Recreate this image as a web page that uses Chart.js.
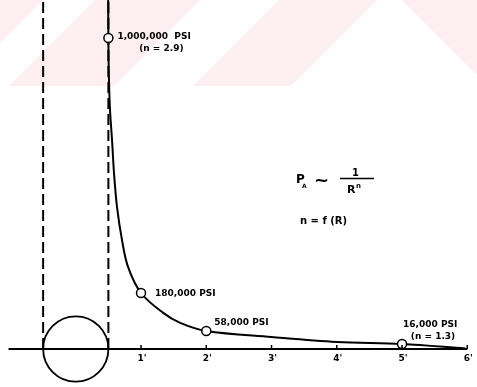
<!DOCTYPE html>
<html>
<head>
<meta charset="utf-8">
<script src="https://cdn.jsdelivr.net/npm/chart.js@4.4.0/dist/chart.umd.min.js"></script>
<style>
  html, body { margin: 0; padding: 0; background: #fff; }
  #wrap { width: 477px; height: 387px; }
</style>
</head>
<body>
<div id="wrap"><canvas id="stressChart" width="477" height="387"></canvas></div>
<script>
// distance from centre of the hole (ft) and stress (psi)
const curveR = [0.497, 0.5, 0.507, 0.525, 0.556, 0.586, 0.632, 0.709, 0.801, 1.0, 1.34, 1.6, 2.0, 3.0, 4.0, 5.0, 5.97];
const curveP = [1130000, 1000000, 881000, 768000, 672000, 566000, 457000, 350000, 264000, 180000, 116000, 84000, 58000, 38600, 22500, 16000, 1600];

// labelled points
const markerR = [0.5, 1, 2, 5];
const markerP = [1000000, 180000, 58000, 16000];
const markerLabels = ['1,000,000  PSI', '180,000 PSI', '58,000 PSI', '16,000 PSI'];
const markerNotes = ['(n = 2.9)', '', '', '(n = 1.3)'];

// hole (radius in ft) and its projected edges
const holeR = 0.5;
const boreEdges = [-0.5, 0.5];
const axisEnds = [-1.03, 6.0];

const tickValues = [1, 2, 3, 4, 5, 6];
const tickLabels = ["1'", "2'", "3'", "4'", "5'", "6'"];

const xMin = -1.161, xMax = 6.149;
const yMin = -122200, yMax = 1122000;

const lineData = (xs, ys) => xs.map((x, i) => ({ x: x, y: ys[i] }));

// pale pink watermark stripes in the top band of the scan
const watermark = {
    id: 'watermark',
    beforeDraw(chart) {
        const ctx = chart.ctx;
        ctx.save();
        ctx.fillStyle = '#fdeef1';
        const h = 86;
        const bands = [[-200, 43], [95, 200], [279, 377]];
        ctx.beginPath();
        ctx.rect(0, 0, chart.width, h);
        ctx.clip();
        bands.forEach(b => {
            ctx.beginPath();
            ctx.moveTo(b[0], 0);
            ctx.lineTo(b[1], 0);
            ctx.lineTo(b[1] - h, h);
            ctx.lineTo(b[0] - h, h);
            ctx.closePath();
            ctx.fill();
        });
        ctx.beginPath();
        ctx.moveTo(402, 0);
        ctx.lineTo(chart.width, 0);
        ctx.lineTo(chart.width, chart.width - 402);
        ctx.closePath();
        ctx.fill();
        ctx.restore();
    }
};

// axis ticks, point labels and the formula
const annotations = {
    id: 'annotations',
    afterDatasetsDraw(chart) {
        const ctx = chart.ctx;
        const xs = chart.scales.x, ys = chart.scales.y;
        const y0 = ys.getPixelForValue(0);
        ctx.save();
        ctx.strokeStyle = '#000';
        ctx.fillStyle = '#000';
        ctx.lineWidth = 1.5;

        ctx.font = 'bold 9px "DejaVu Sans"';
        ctx.textAlign = 'center';
        ctx.textBaseline = 'middle';
        tickValues.forEach((v, i) => {
            const px = xs.getPixelForValue(v);
            ctx.beginPath();
            ctx.moveTo(px, y0);
            ctx.lineTo(px, y0 - 4);
            ctx.stroke();
            ctx.fillText(tickLabels[i], px + 1, y0 + 10);
        });

        const offsets = [[9, -1, 44, 12], [14, 1, 0, 0], [8, -8, 0, 0], [1, -19, 30, -8]];
        ctx.textAlign = 'left';
        markerR.forEach((r, i) => {
            const px = xs.getPixelForValue(r), py = ys.getPixelForValue(markerP[i]);
            const o = offsets[i];
            ctx.fillText(markerLabels[i], px + o[0], py + o[1]);
            if (markerNotes[i]) {
                ctx.textAlign = 'center';
                ctx.fillText(markerNotes[i], px + o[0] + o[2], py + o[1] + 12);
                ctx.textAlign = 'left';
            }
        });

        // P_A ~ 1 / R^n
        ctx.textBaseline = 'alphabetic';
        ctx.font = 'bold 12px "DejaVu Sans"';
        ctx.fillText('P', 296, 183);
        ctx.font = 'bold 6px "DejaVu Sans"';
        ctx.fillText('A', 302, 188);
        ctx.font = 'bold 18px "DejaVu Sans"';
        ctx.fillText('~', 314, 186);
        ctx.beginPath();
        ctx.moveTo(340, 178.5);
        ctx.lineTo(374, 178.5);
        ctx.stroke();
        ctx.font = 'bold 10px "DejaVu Sans"';
        ctx.fillText('1', 352, 176);
        ctx.font = 'bold 11px "DejaVu Sans"';
        ctx.fillText('R', 347, 193);
        ctx.font = 'bold 7px "DejaVu Sans"';
        ctx.fillText('n', 356, 188);
        ctx.font = 'bold 10px "DejaVu Sans"';
        ctx.fillText('n = f (R)', 300, 224);
        ctx.restore();
    }
};

const ctx = document.getElementById('stressChart').getContext('2d');
new Chart(ctx, {
    type: 'scatter',
    data: {
        datasets: [
            {
                label: 'points',
                data: lineData(markerR, markerP),
                pointRadius: 4.5,
                pointBackgroundColor: '#fff',
                pointBorderColor: '#000',
                pointBorderWidth: 1.5,
                showLine: false,
                order: 0
            },
            {
                label: 'stress',
                data: lineData(curveR, curveP),
                showLine: true,
                borderColor: '#000',
                borderWidth: 2,
                pointRadius: 0,
                tension: 0.35,
                order: 1
            },
            {
                label: 'hole',
                data: [{ x: 0, y: 0 }],
                pointRadius: c => c.chart.scales.x.getPixelForValue(holeR) - c.chart.scales.x.getPixelForValue(0),
                pointBackgroundColor: 'rgba(0,0,0,0)',
                pointBorderColor: '#000',
                pointBorderWidth: 1.8,
                order: 2
            },
            {
                label: 'left edge',
                data: lineData([boreEdges[0], boreEdges[0]], [0, yMax]),
                showLine: true,
                borderColor: '#000',
                borderWidth: 2,
                borderDash: [11, 5],
                pointRadius: 0,
                order: 3
            },
            {
                label: 'right edge',
                data: lineData([boreEdges[1], boreEdges[1]], [0, yMax]),
                showLine: true,
                borderColor: '#000',
                borderWidth: 2,
                borderDash: [11, 5],
                pointRadius: 0,
                order: 3
            },
            {
                label: 'axis',
                data: lineData(axisEnds, [0, 0]),
                showLine: true,
                borderColor: '#000',
                borderWidth: 2,
                pointRadius: 0,
                order: 3
            }
        ]
    },
    options: {
        responsive: false,
        animation: false,
        layout: { padding: 0, autoPadding: false },
        scales: {
            x: { type: 'linear', min: xMin, max: xMax, display: false },
            y: { type: 'linear', min: yMin, max: yMax, display: false }
        },
        plugins: {
            legend: { display: false },
            tooltip: { enabled: false }
        }
    },
    plugins: [watermark, annotations]
});
</script>
</body>
</html>
